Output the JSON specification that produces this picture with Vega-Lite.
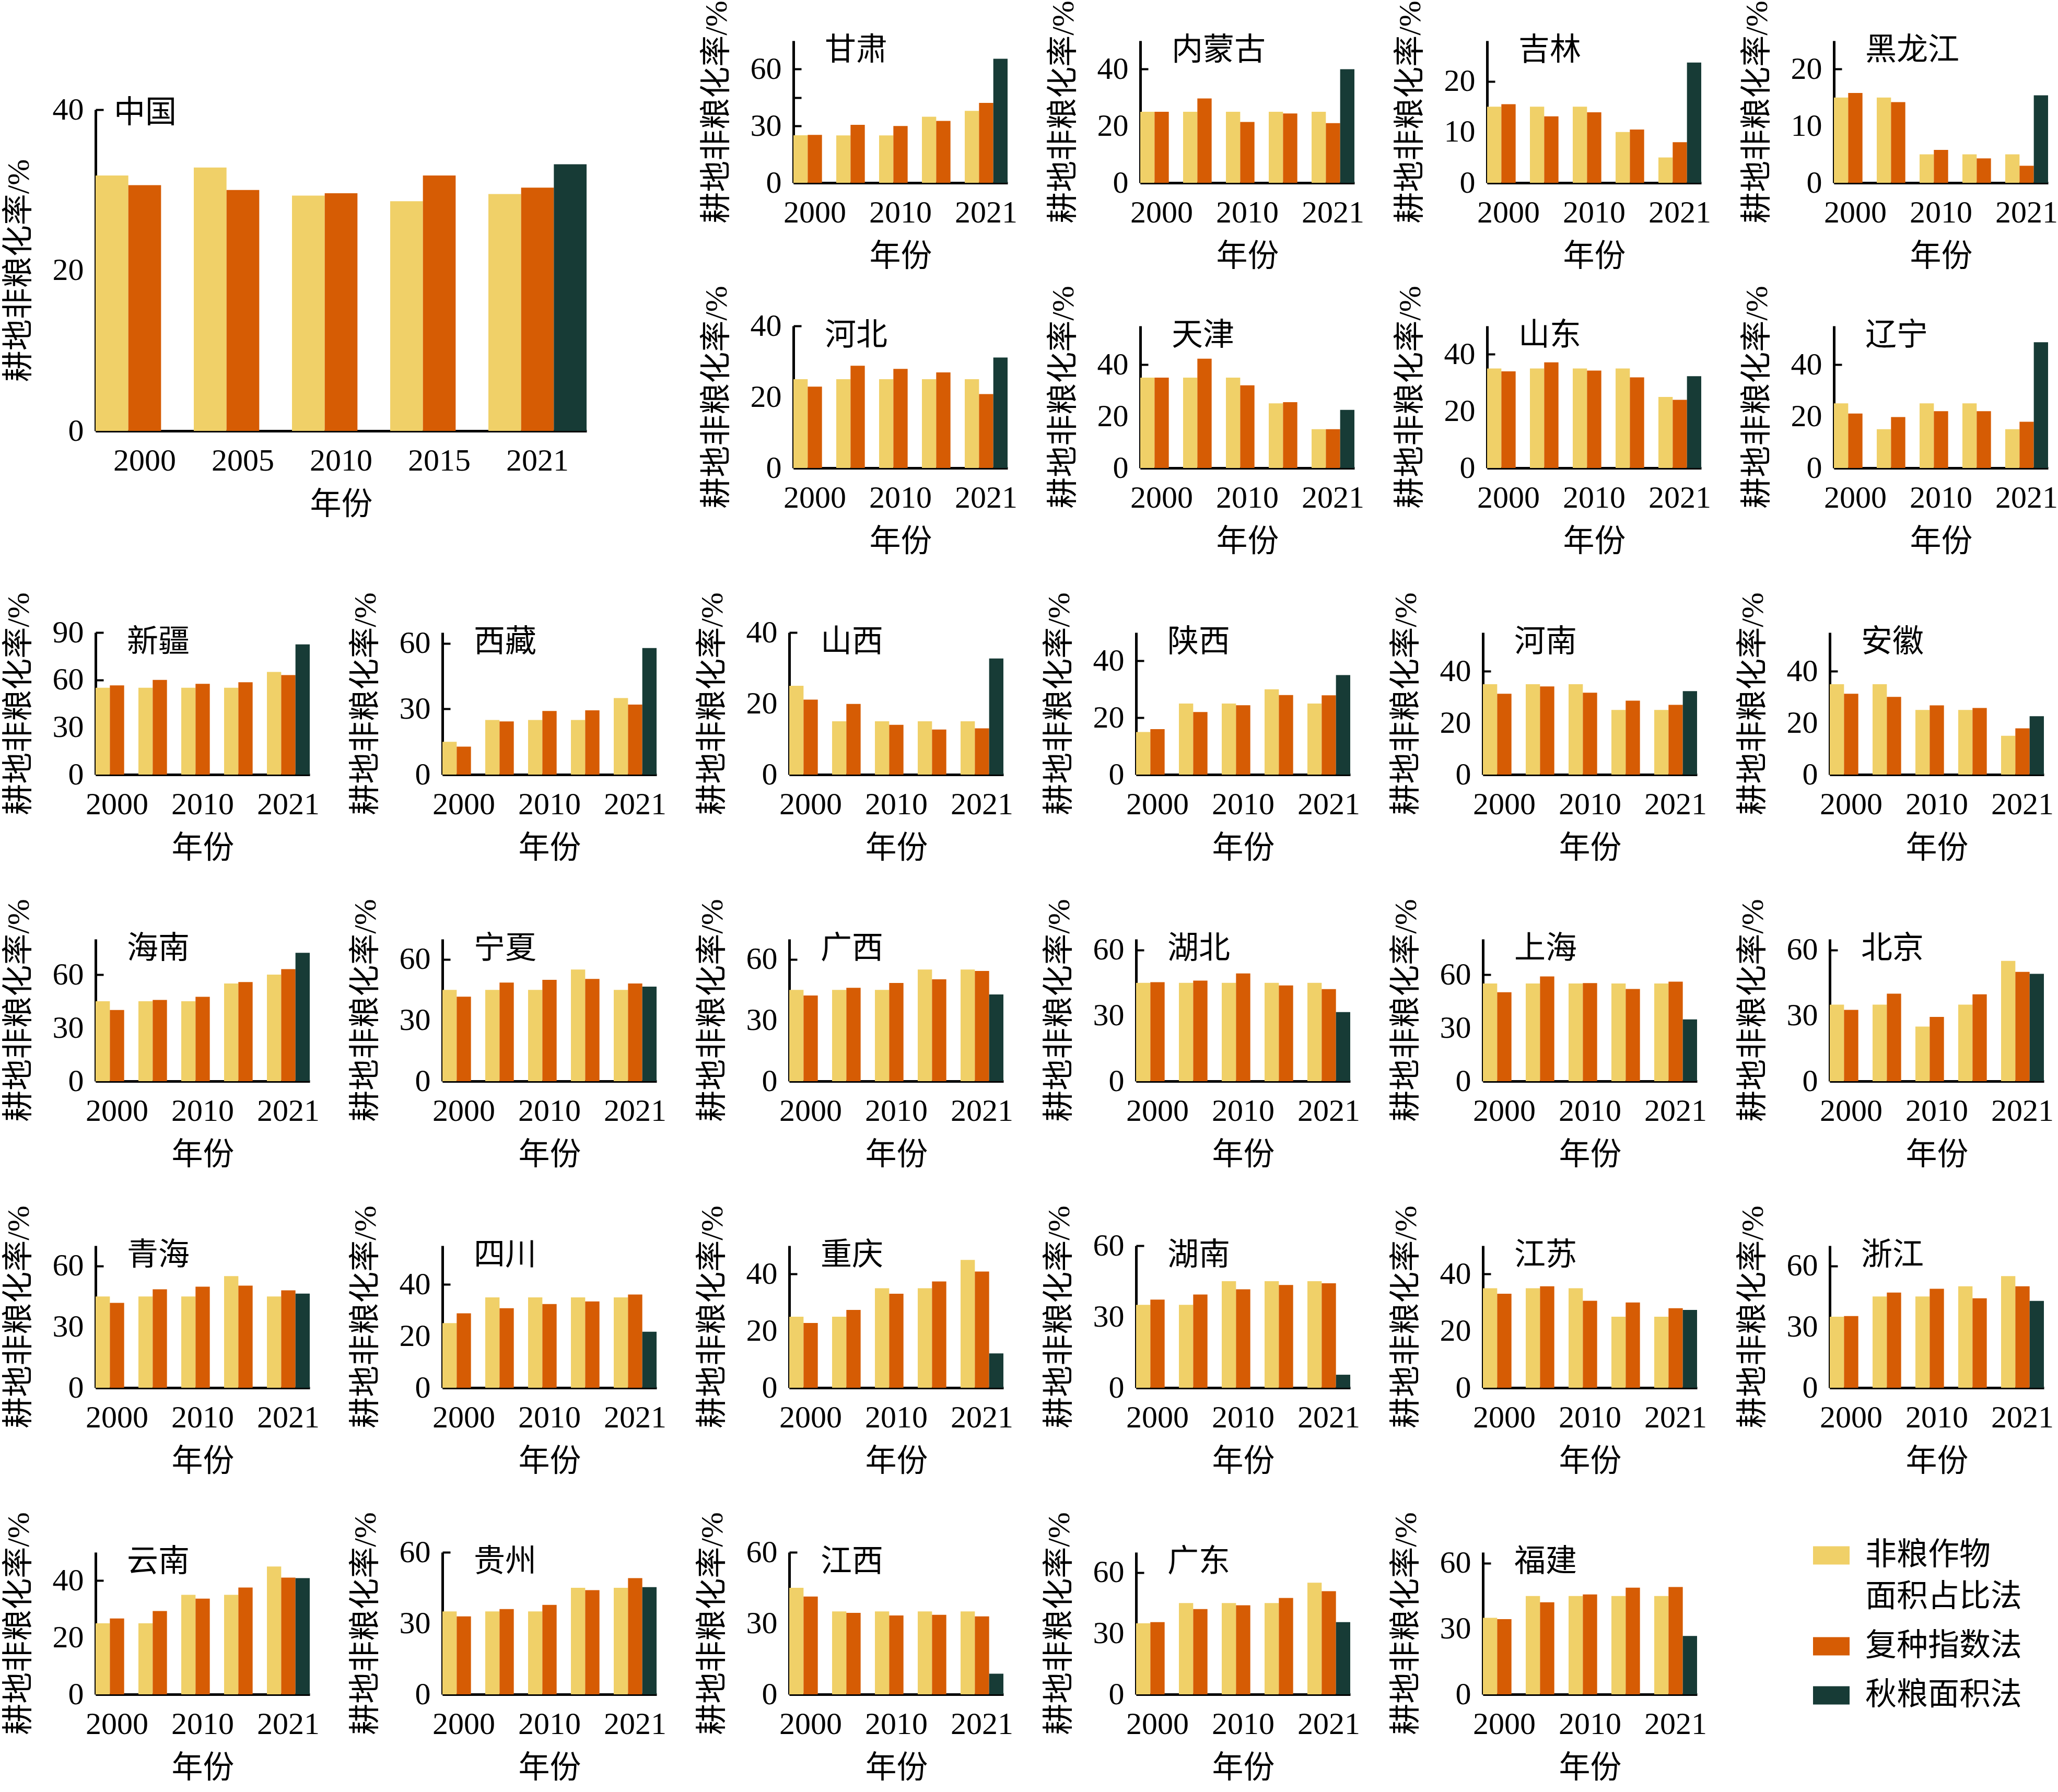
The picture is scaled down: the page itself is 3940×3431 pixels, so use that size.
{
  "$schema": "https://vega.github.io/schema/vega-lite/v6.json",
  "description": "耕地非粮化率：全国与各省份三种测算方法对比（2000-2021）",
  "padding": {"left": 5, "top": 0, "right": 0, "bottom": 0},
  "data": {
    "values": [
      {"region": "中国", "year": "2000", "非粮作物面积占比法": 31.8, "复种指数法": 30.6},
      {"region": "中国", "year": "2005", "非粮作物面积占比法": 32.8, "复种指数法": 30.0},
      {"region": "中国", "year": "2010", "非粮作物面积占比法": 29.3, "复种指数法": 29.6},
      {"region": "中国", "year": "2015", "非粮作物面积占比法": 28.6, "复种指数法": 31.8},
      {"region": "中国", "year": "2021", "非粮作物面积占比法": 29.5, "复种指数法": 30.3, "秋粮面积法": 33.2},
      {"region": "甘肃", "year": "2000", "非粮作物面积占比法": 25.1, "复种指数法": 25.3},
      {"region": "甘肃", "year": "2005", "非粮作物面积占比法": 25, "复种指数法": 30.6},
      {"region": "甘肃", "year": "2010", "非粮作物面积占比法": 25, "复种指数法": 30},
      {"region": "甘肃", "year": "2015", "非粮作物面积占比法": 34.9, "复种指数法": 32.7},
      {"region": "甘肃", "year": "2021", "非粮作物面积占比法": 38, "复种指数法": 42.2, "秋粮面积法": 65.5},
      {"region": "内蒙古", "year": "2000", "非粮作物面积占比法": 25, "复种指数法": 25},
      {"region": "内蒙古", "year": "2005", "非粮作物面积占比法": 25, "复种指数法": 29.7},
      {"region": "内蒙古", "year": "2010", "非粮作物面积占比法": 25, "复种指数法": 21.4},
      {"region": "内蒙古", "year": "2015", "非粮作物面积占比法": 25, "复种指数法": 24.4},
      {"region": "内蒙古", "year": "2021", "非粮作物面积占比法": 25, "复种指数法": 21, "秋粮面积法": 40},
      {"region": "吉林", "year": "2000", "非粮作物面积占比法": 15, "复种指数法": 15.5},
      {"region": "吉林", "year": "2005", "非粮作物面积占比法": 15, "复种指数法": 13.1},
      {"region": "吉林", "year": "2010", "非粮作物面积占比法": 15, "复种指数法": 13.9},
      {"region": "吉林", "year": "2015", "非粮作物面积占比法": 10, "复种指数法": 10.5},
      {"region": "吉林", "year": "2021", "非粮作物面积占比法": 5, "复种指数法": 8, "秋粮面积法": 23.7},
      {"region": "黑龙江", "year": "2000", "非粮作物面积占比法": 15, "复种指数法": 15.8},
      {"region": "黑龙江", "year": "2005", "非粮作物面积占比法": 15, "复种指数法": 14.2},
      {"region": "黑龙江", "year": "2010", "非粮作物面积占比法": 5, "复种指数法": 5.8},
      {"region": "黑龙江", "year": "2015", "非粮作物面积占比法": 5, "复种指数法": 4.3},
      {"region": "黑龙江", "year": "2021", "非粮作物面积占比法": 5, "复种指数法": 3, "秋粮面积法": 15.4},
      {"region": "河北", "year": "2000", "非粮作物面积占比法": 25, "复种指数法": 22.9},
      {"region": "河北", "year": "2005", "非粮作物面积占比法": 25, "复种指数法": 28.8},
      {"region": "河北", "year": "2010", "非粮作物面积占比法": 25, "复种指数法": 27.9},
      {"region": "河北", "year": "2015", "非粮作物面积占比法": 25, "复种指数法": 26.9},
      {"region": "河北", "year": "2021", "非粮作物面积占比法": 25, "复种指数法": 20.8, "秋粮面积法": 31.1},
      {"region": "天津", "year": "2000", "非粮作物面积占比法": 35, "复种指数法": 35},
      {"region": "天津", "year": "2005", "非粮作物面积占比法": 35, "复种指数法": 42.3},
      {"region": "天津", "year": "2010", "非粮作物面积占比法": 35, "复种指数法": 32},
      {"region": "天津", "year": "2015", "非粮作物面积占比法": 25, "复种指数法": 25.5},
      {"region": "天津", "year": "2021", "非粮作物面积占比法": 15, "复种指数法": 15, "秋粮面积法": 22.5},
      {"region": "山东", "year": "2000", "非粮作物面积占比法": 35, "复种指数法": 34},
      {"region": "山东", "year": "2005", "非粮作物面积占比法": 35, "复种指数法": 37.2},
      {"region": "山东", "year": "2010", "非粮作物面积占比法": 35, "复种指数法": 34.3},
      {"region": "山东", "year": "2015", "非粮作物面积占比法": 35, "复种指数法": 31.9},
      {"region": "山东", "year": "2021", "非粮作物面积占比法": 25, "复种指数法": 24, "秋粮面积法": 32.3},
      {"region": "辽宁", "year": "2000", "非粮作物面积占比法": 25, "复种指数法": 21.1},
      {"region": "辽宁", "year": "2005", "非粮作物面积占比法": 15, "复种指数法": 19.7},
      {"region": "辽宁", "year": "2010", "非粮作物面积占比法": 25, "复种指数法": 22},
      {"region": "辽宁", "year": "2015", "非粮作物面积占比法": 25, "复种指数法": 22},
      {"region": "辽宁", "year": "2021", "非粮作物面积占比法": 15, "复种指数法": 17.9, "秋粮面积法": 48.7},
      {"region": "新疆", "year": "2000", "非粮作物面积占比法": 55, "复种指数法": 56.5},
      {"region": "新疆", "year": "2005", "非粮作物面积占比法": 55, "复种指数法": 60},
      {"region": "新疆", "year": "2010", "非粮作物面积占比法": 55, "复种指数法": 57.5},
      {"region": "新疆", "year": "2015", "非粮作物面积占比法": 55, "复种指数法": 58.5},
      {"region": "新疆", "year": "2021", "非粮作物面积占比法": 65, "复种指数法": 63, "秋粮面积法": 82.5},
      {"region": "西藏", "year": "2000", "非粮作物面积占比法": 15, "复种指数法": 12.8},
      {"region": "西藏", "year": "2005", "非粮作物面积占比法": 25, "复种指数法": 24.3},
      {"region": "西藏", "year": "2010", "非粮作物面积占比法": 25, "复种指数法": 29.1},
      {"region": "西藏", "year": "2015", "非粮作物面积占比法": 25, "复种指数法": 29.4},
      {"region": "西藏", "year": "2021", "非粮作物面积占比法": 35, "复种指数法": 32, "秋粮面积法": 57.9},
      {"region": "山西", "year": "2000", "非粮作物面积占比法": 25, "复种指数法": 21.1},
      {"region": "山西", "year": "2005", "非粮作物面积占比法": 15, "复种指数法": 19.9},
      {"region": "山西", "year": "2010", "非粮作物面积占比法": 15, "复种指数法": 14},
      {"region": "山西", "year": "2015", "非粮作物面积占比法": 15, "复种指数法": 12.7},
      {"region": "山西", "year": "2021", "非粮作物面积占比法": 15, "复种指数法": 13, "秋粮面积法": 32.7},
      {"region": "陕西", "year": "2000", "非粮作物面积占比法": 15, "复种指数法": 16},
      {"region": "陕西", "year": "2005", "非粮作物面积占比法": 25, "复种指数法": 22},
      {"region": "陕西", "year": "2010", "非粮作物面积占比法": 25, "复种指数法": 24.4},
      {"region": "陕西", "year": "2015", "非粮作物面积占比法": 30, "复种指数法": 28},
      {"region": "陕西", "year": "2021", "非粮作物面积占比法": 25, "复种指数法": 27.9, "秋粮面积法": 35},
      {"region": "河南", "year": "2000", "非粮作物面积占比法": 35, "复种指数法": 31.3},
      {"region": "河南", "year": "2005", "非粮作物面积占比法": 35, "复种指数法": 34.1},
      {"region": "河南", "year": "2010", "非粮作物面积占比法": 35, "复种指数法": 31.7},
      {"region": "河南", "year": "2015", "非粮作物面积占比法": 25, "复种指数法": 28.6},
      {"region": "河南", "year": "2021", "非粮作物面积占比法": 25, "复种指数法": 27, "秋粮面积法": 32.3},
      {"region": "安徽", "year": "2000", "非粮作物面积占比法": 35, "复种指数法": 31.3},
      {"region": "安徽", "year": "2005", "非粮作物面积占比法": 35, "复种指数法": 30.1},
      {"region": "安徽", "year": "2010", "非粮作物面积占比法": 25, "复种指数法": 26.8},
      {"region": "安徽", "year": "2015", "非粮作物面积占比法": 25, "复种指数法": 25.8},
      {"region": "安徽", "year": "2021", "非粮作物面积占比法": 15, "复种指数法": 17.9, "秋粮面积法": 22.6},
      {"region": "海南", "year": "2000", "非粮作物面积占比法": 45, "复种指数法": 40.1},
      {"region": "海南", "year": "2005", "非粮作物面积占比法": 45, "复种指数法": 45.7},
      {"region": "海南", "year": "2010", "非粮作物面积占比法": 45, "复种指数法": 47.5},
      {"region": "海南", "year": "2015", "非粮作物面积占比法": 55, "复种指数法": 55.8},
      {"region": "海南", "year": "2021", "非粮作物面积占比法": 60, "复种指数法": 63.1, "秋粮面积法": 72.3},
      {"region": "宁夏", "year": "2000", "非粮作物面积占比法": 45, "复种指数法": 41.6},
      {"region": "宁夏", "year": "2005", "非粮作物面积占比法": 45, "复种指数法": 48.6},
      {"region": "宁夏", "year": "2010", "非粮作物面积占比法": 45, "复种指数法": 49.9},
      {"region": "宁夏", "year": "2015", "非粮作物面积占比法": 55, "复种指数法": 50.4},
      {"region": "宁夏", "year": "2021", "非粮作物面积占比法": 45, "复种指数法": 48.1, "秋粮面积法": 46.6},
      {"region": "广西", "year": "2000", "非粮作物面积占比法": 45, "复种指数法": 42.2},
      {"region": "广西", "year": "2005", "非粮作物面积占比法": 45, "复种指数法": 46},
      {"region": "广西", "year": "2010", "非粮作物面积占比法": 45, "复种指数法": 48.4},
      {"region": "广西", "year": "2015", "非粮作物面积占比法": 55, "复种指数法": 50.2},
      {"region": "广西", "year": "2021", "非粮作物面积占比法": 55, "复种指数法": 54.3, "秋粮面积法": 42.7},
      {"region": "湖北", "year": "2000", "非粮作物面积占比法": 45, "复种指数法": 45.3},
      {"region": "湖北", "year": "2005", "非粮作物面积占比法": 45, "复种指数法": 46},
      {"region": "湖北", "year": "2010", "非粮作物面积占比法": 45, "复种指数法": 49.3},
      {"region": "湖北", "year": "2015", "非粮作物面积占比法": 45, "复种指数法": 43.8},
      {"region": "湖北", "year": "2021", "非粮作物面积占比法": 45, "复种指数法": 42.1, "秋粮面积法": 31.6},
      {"region": "上海", "year": "2000", "非粮作物面积占比法": 55, "复种指数法": 50.1},
      {"region": "上海", "year": "2005", "非粮作物面积占比法": 55, "复种指数法": 59},
      {"region": "上海", "year": "2010", "非粮作物面积占比法": 55, "复种指数法": 55.2},
      {"region": "上海", "year": "2015", "非粮作物面积占比法": 55, "复种指数法": 51.9},
      {"region": "上海", "year": "2021", "非粮作物面积占比法": 55, "复种指数法": 56, "秋粮面积法": 34.8},
      {"region": "北京", "year": "2000", "非粮作物面积占比法": 35, "复种指数法": 32.6},
      {"region": "北京", "year": "2005", "非粮作物面积占比法": 35, "复种指数法": 40},
      {"region": "北京", "year": "2010", "非粮作物面积占比法": 25, "复种指数法": 29.4},
      {"region": "北京", "year": "2015", "非粮作物面积占比法": 35, "复种指数法": 39.7},
      {"region": "北京", "year": "2021", "非粮作物面积占比法": 55, "复种指数法": 50, "秋粮面积法": 49.1},
      {"region": "青海", "year": "2000", "非粮作物面积占比法": 45, "复种指数法": 41.8},
      {"region": "青海", "year": "2005", "非粮作物面积占比法": 45, "复种指数法": 48.5},
      {"region": "青海", "year": "2010", "非粮作物面积占比法": 45, "复种指数法": 49.8},
      {"region": "青海", "year": "2015", "非粮作物面积占比法": 55, "复种指数法": 50.3},
      {"region": "青海", "year": "2021", "非粮作物面积占比法": 45, "复种指数法": 48, "秋粮面积法": 46.4},
      {"region": "四川", "year": "2000", "非粮作物面积占比法": 25, "复种指数法": 28.8},
      {"region": "四川", "year": "2005", "非粮作物面积占比法": 35, "复种指数法": 30.8},
      {"region": "四川", "year": "2010", "非粮作物面积占比法": 35, "复种指数法": 32.4},
      {"region": "四川", "year": "2015", "非粮作物面积占比法": 35, "复种指数法": 33.4},
      {"region": "四川", "year": "2021", "非粮作物面积占比法": 35, "复种指数法": 36.1, "秋粮面积法": 21.7},
      {"region": "重庆", "year": "2000", "非粮作物面积占比法": 25, "复种指数法": 22.8},
      {"region": "重庆", "year": "2005", "非粮作物面积占比法": 25, "复种指数法": 27.4},
      {"region": "重庆", "year": "2010", "非粮作物面积占比法": 35, "复种指数法": 33.1},
      {"region": "重庆", "year": "2015", "非粮作物面积占比法": 35, "复种指数法": 37.4},
      {"region": "重庆", "year": "2021", "非粮作物面积占比法": 45, "复种指数法": 40.9, "秋粮面积法": 12.1},
      {"region": "湖南", "year": "2000", "非粮作物面积占比法": 35, "复种指数法": 37.2},
      {"region": "湖南", "year": "2005", "非粮作物面积占比法": 35, "复种指数法": 39.4},
      {"region": "湖南", "year": "2010", "非粮作物面积占比法": 45, "复种指数法": 41.6},
      {"region": "湖南", "year": "2015", "非粮作物面积占比法": 45, "复种指数法": 43.4},
      {"region": "湖南", "year": "2021", "非粮作物面积占比法": 45, "复种指数法": 44.1, "秋粮面积法": 5.5},
      {"region": "江苏", "year": "2000", "非粮作物面积占比法": 35, "复种指数法": 33.1},
      {"region": "江苏", "year": "2005", "非粮作物面积占比法": 35, "复种指数法": 35.7},
      {"region": "江苏", "year": "2010", "非粮作物面积占比法": 35, "复种指数法": 30.6},
      {"region": "江苏", "year": "2015", "非粮作物面积占比法": 25, "复种指数法": 30},
      {"region": "江苏", "year": "2021", "非粮作物面积占比法": 25, "复种指数法": 28, "秋粮面积法": 27.4},
      {"region": "浙江", "year": "2000", "非粮作物面积占比法": 35, "复种指数法": 35.3},
      {"region": "浙江", "year": "2005", "非粮作物面积占比法": 45, "复种指数法": 46.9},
      {"region": "浙江", "year": "2010", "非粮作物面积占比法": 45, "复种指数法": 48.8},
      {"region": "浙江", "year": "2015", "非粮作物面积占比法": 50, "复种指数法": 44.1},
      {"region": "浙江", "year": "2021", "非粮作物面积占比法": 55, "复种指数法": 50, "秋粮面积法": 42.8},
      {"region": "云南", "year": "2000", "非粮作物面积占比法": 25, "复种指数法": 26.7},
      {"region": "云南", "year": "2005", "非粮作物面积占比法": 25, "复种指数法": 29.3},
      {"region": "云南", "year": "2010", "非粮作物面积占比法": 35, "复种指数法": 33.7},
      {"region": "云南", "year": "2015", "非粮作物面积占比法": 35, "复种指数法": 37.6},
      {"region": "云南", "year": "2021", "非粮作物面积占比法": 45, "复种指数法": 41.1, "秋粮面积法": 40.9},
      {"region": "贵州", "year": "2000", "非粮作物面积占比法": 35, "复种指数法": 32.9},
      {"region": "贵州", "year": "2005", "非粮作物面积占比法": 35, "复种指数法": 36},
      {"region": "贵州", "year": "2010", "非粮作物面积占比法": 35, "复种指数法": 37.8},
      {"region": "贵州", "year": "2015", "非粮作物面积占比法": 45, "复种指数法": 44},
      {"region": "贵州", "year": "2021", "非粮作物面积占比法": 45, "复种指数法": 49.1, "秋粮面积法": 45.3},
      {"region": "江西", "year": "2000", "非粮作物面积占比法": 45, "复种指数法": 41.3},
      {"region": "江西", "year": "2005", "非粮作物面积占比法": 35, "复种指数法": 34.4},
      {"region": "江西", "year": "2010", "非粮作物面积占比法": 35, "复种指数法": 33.3},
      {"region": "江西", "year": "2015", "非粮作物面积占比法": 35, "复种指数法": 33.6},
      {"region": "江西", "year": "2021", "非粮作物面积占比法": 35, "复种指数法": 32.9, "秋粮面积法": 8.7},
      {"region": "广东", "year": "2000", "非粮作物面积占比法": 35, "复种指数法": 35.6},
      {"region": "广东", "year": "2005", "非粮作物面积占比法": 45, "复种指数法": 42},
      {"region": "广东", "year": "2010", "非粮作物面积占比法": 45, "复种指数法": 43.9},
      {"region": "广东", "year": "2015", "非粮作物面积占比法": 45, "复种指数法": 47.5},
      {"region": "广东", "year": "2021", "非粮作物面积占比法": 55, "复种指数法": 50.8, "秋粮面积法": 35.6},
      {"region": "福建", "year": "2000", "非粮作物面积占比法": 35, "复种指数法": 34.4},
      {"region": "福建", "year": "2005", "非粮作物面积占比法": 45, "复种指数法": 42.1},
      {"region": "福建", "year": "2010", "非粮作物面积占比法": 45, "复种指数法": 45.7},
      {"region": "福建", "year": "2015", "非粮作物面积占比法": 45, "复种指数法": 48.8},
      {"region": "福建", "year": "2021", "非粮作物面积占比法": 45, "复种指数法": 49.1, "秋粮面积法": 26.7}
    ]
  },
  "transform": [
    {"fold": ["非粮作物面积占比法", "复种指数法", "秋粮面积法"], "as": ["method", "rate"]}
  ],
  "resolve": {"scale": {"xOffset": "independent"}},
  "spacing": 66,
  "vconcat": [
    {
      "spacing": 218,
      "resolve": {"scale": {"xOffset": "independent"}},
      "hconcat": [
        {
          "spacing": 101,
          "resolve": {"scale": {"xOffset": "independent"}},
          "vconcat": [
            {"width": 1, "height": 1, "data": {"values": []}, "mark": "point"},
            {
              "width": 940, "height": 615,
              "title": {"text": "中国", "dx": 35, "dy": 72},
              "transform": [{"filter": "datum.region == '中国'"}],
              "mark": "bar",
              "encoding": {
                "x": {"field": "year", "type": "ordinal", "title": "年份", "scale": {"paddingInner": 0, "paddingOuter": 0}},
                "xOffset": {"field": "method", "scale": {"domain": ["非粮作物面积占比法", "复种指数法", "秋粮面积法"], "paddingInner": 0, "paddingOuter": 0}},
                "y": {"field": "rate", "type": "quantitative", "title": "耕地非粮化率/%", "scale": {"domain": [0, 40], "nice": false}, "axis": {"values": [0, 20, 40]}},
                "color": {
                  "field": "method", "title": null,
                  "scale": {"domain": ["非粮作物面积占比法", "复种指数法", "秋粮面积法"], "range": ["#F0D068", "#D65C04", "#173B36"]},
                  "legend": {
                    "orient": "none", "legendX": 3288, "legendY": 2865, "direction": "vertical", "padding": 0,
                    "symbolType": "M-1,-0.5H1V0.5H-1Z", "symbolSize": 4900, "symbolStrokeWidth": 0,
                    "labelFont": "Liberation Serif, Noto Sans CJK SC", "labelFontSize": 60, "labelColor": "#000",
                    "labelOffset": 30, "labelLimit": 0, "rowPadding": 29,
                    "labelExpr": "datum.label == '非粮作物面积占比法' ? ['非粮作物', '面积占比法'] : datum.label"
                  }
                }
              }
            }
          ]
        },
        {
          "spacing": 25,
          "resolve": {"scale": {"xOffset": "independent"}},
          "vconcat": [
            {
              "spacing": 57,
              "hconcat": [
                {"width": 410, "height": 272, "title": "甘肃", "transform": [{"filter": "datum.region == '甘肃'"}], "mark": "bar",
                 "encoding": {"x": {"field": "year", "type": "ordinal", "title": "年份", "scale": {"paddingInner": 0, "paddingOuter": 0}, "axis": {"labelExpr": "datum.label == '2005' || datum.label == '2015' ? '' : datum.label"}},
                  "xOffset": {"field": "method", "scale": {"domain": ["非粮作物面积占比法", "复种指数法", "秋粮面积法"], "paddingInner": 0, "paddingOuter": 0}},
                  "y": {"field": "rate", "type": "quantitative", "title": "耕地非粮化率/%", "scale": {"domain": [0, 75], "nice": false}, "axis": {"values": [0, 15, 30, 45, 60], "labelExpr": "datum.value % 30 == 0 ? datum.label : ''"}},
                  "color": {"field": "method", "title": null, "scale": {"domain": ["非粮作物面积占比法", "复种指数法", "秋粮面积法"], "range": ["#F0D068", "#D65C04", "#173B36"]}}}},
                {"width": 410, "height": 272, "title": "内蒙古", "transform": [{"filter": "datum.region == '内蒙古'"}], "mark": "bar",
                 "encoding": {"x": {"field": "year", "type": "ordinal", "title": "年份", "scale": {"paddingInner": 0, "paddingOuter": 0}, "axis": {"labelExpr": "datum.label == '2005' || datum.label == '2015' ? '' : datum.label"}},
                  "xOffset": {"field": "method", "scale": {"domain": ["非粮作物面积占比法", "复种指数法", "秋粮面积法"], "paddingInner": 0, "paddingOuter": 0}},
                  "y": {"field": "rate", "type": "quantitative", "title": "耕地非粮化率/%", "scale": {"domain": [0, 50], "nice": false}, "axis": {"values": [0, 20, 40]}},
                  "color": {"field": "method", "title": null, "scale": {"domain": ["非粮作物面积占比法", "复种指数法", "秋粮面积法"], "range": ["#F0D068", "#D65C04", "#173B36"]}}}},
                {"width": 410, "height": 272, "title": "吉林", "transform": [{"filter": "datum.region == '吉林'"}], "mark": "bar",
                 "encoding": {"x": {"field": "year", "type": "ordinal", "title": "年份", "scale": {"paddingInner": 0, "paddingOuter": 0}, "axis": {"labelExpr": "datum.label == '2005' || datum.label == '2015' ? '' : datum.label"}},
                  "xOffset": {"field": "method", "scale": {"domain": ["非粮作物面积占比法", "复种指数法", "秋粮面积法"], "paddingInner": 0, "paddingOuter": 0}},
                  "y": {"field": "rate", "type": "quantitative", "title": "耕地非粮化率/%", "scale": {"domain": [0, 28], "nice": false}, "axis": {"values": [0, 10, 20]}},
                  "color": {"field": "method", "title": null, "scale": {"domain": ["非粮作物面积占比法", "复种指数法", "秋粮面积法"], "range": ["#F0D068", "#D65C04", "#173B36"]}}}},
                {"width": 410, "height": 272, "title": "黑龙江", "transform": [{"filter": "datum.region == '黑龙江'"}], "mark": "bar",
                 "encoding": {"x": {"field": "year", "type": "ordinal", "title": "年份", "scale": {"paddingInner": 0, "paddingOuter": 0}, "axis": {"labelExpr": "datum.label == '2005' || datum.label == '2015' ? '' : datum.label"}},
                  "xOffset": {"field": "method", "scale": {"domain": ["非粮作物面积占比法", "复种指数法", "秋粮面积法"], "paddingInner": 0, "paddingOuter": 0}},
                  "y": {"field": "rate", "type": "quantitative", "title": "耕地非粮化率/%", "scale": {"domain": [0, 25], "nice": false}, "axis": {"values": [0, 10, 20]}},
                  "color": {"field": "method", "title": null, "scale": {"domain": ["非粮作物面积占比法", "复种指数法", "秋粮面积法"], "range": ["#F0D068", "#D65C04", "#173B36"]}}}}
              ]
            },
            {
              "spacing": 57,
              "hconcat": [
                {"width": 410, "height": 272, "title": "河北", "transform": [{"filter": "datum.region == '河北'"}], "mark": "bar",
                 "encoding": {"x": {"field": "year", "type": "ordinal", "title": "年份", "scale": {"paddingInner": 0, "paddingOuter": 0}, "axis": {"labelExpr": "datum.label == '2005' || datum.label == '2015' ? '' : datum.label"}},
                  "xOffset": {"field": "method", "scale": {"domain": ["非粮作物面积占比法", "复种指数法", "秋粮面积法"], "paddingInner": 0, "paddingOuter": 0}},
                  "y": {"field": "rate", "type": "quantitative", "title": "耕地非粮化率/%", "scale": {"domain": [0, 40], "nice": false}, "axis": {"values": [0, 20, 40]}},
                  "color": {"field": "method", "title": null, "scale": {"domain": ["非粮作物面积占比法", "复种指数法", "秋粮面积法"], "range": ["#F0D068", "#D65C04", "#173B36"]}}}},
                {"width": 410, "height": 272, "title": "天津", "transform": [{"filter": "datum.region == '天津'"}], "mark": "bar",
                 "encoding": {"x": {"field": "year", "type": "ordinal", "title": "年份", "scale": {"paddingInner": 0, "paddingOuter": 0}, "axis": {"labelExpr": "datum.label == '2005' || datum.label == '2015' ? '' : datum.label"}},
                  "xOffset": {"field": "method", "scale": {"domain": ["非粮作物面积占比法", "复种指数法", "秋粮面积法"], "paddingInner": 0, "paddingOuter": 0}},
                  "y": {"field": "rate", "type": "quantitative", "title": "耕地非粮化率/%", "scale": {"domain": [0, 55], "nice": false}, "axis": {"values": [0, 20, 40]}},
                  "color": {"field": "method", "title": null, "scale": {"domain": ["非粮作物面积占比法", "复种指数法", "秋粮面积法"], "range": ["#F0D068", "#D65C04", "#173B36"]}}}},
                {"width": 410, "height": 272, "title": "山东", "transform": [{"filter": "datum.region == '山东'"}], "mark": "bar",
                 "encoding": {"x": {"field": "year", "type": "ordinal", "title": "年份", "scale": {"paddingInner": 0, "paddingOuter": 0}, "axis": {"labelExpr": "datum.label == '2005' || datum.label == '2015' ? '' : datum.label"}},
                  "xOffset": {"field": "method", "scale": {"domain": ["非粮作物面积占比法", "复种指数法", "秋粮面积法"], "paddingInner": 0, "paddingOuter": 0}},
                  "y": {"field": "rate", "type": "quantitative", "title": "耕地非粮化率/%", "scale": {"domain": [0, 50], "nice": false}, "axis": {"values": [0, 20, 40]}},
                  "color": {"field": "method", "title": null, "scale": {"domain": ["非粮作物面积占比法", "复种指数法", "秋粮面积法"], "range": ["#F0D068", "#D65C04", "#173B36"]}}}},
                {"width": 410, "height": 272, "title": "辽宁", "transform": [{"filter": "datum.region == '辽宁'"}], "mark": "bar",
                 "encoding": {"x": {"field": "year", "type": "ordinal", "title": "年份", "scale": {"paddingInner": 0, "paddingOuter": 0}, "axis": {"labelExpr": "datum.label == '2005' || datum.label == '2015' ? '' : datum.label"}},
                  "xOffset": {"field": "method", "scale": {"domain": ["非粮作物面积占比法", "复种指数法", "秋粮面积法"], "paddingInner": 0, "paddingOuter": 0}},
                  "y": {"field": "rate", "type": "quantitative", "title": "耕地非粮化率/%", "scale": {"domain": [0, 55], "nice": false}, "axis": {"values": [0, 20, 40]}},
                  "color": {"field": "method", "title": null, "scale": {"domain": ["非粮作物面积占比法", "复种指数法", "秋粮面积法"], "range": ["#F0D068", "#D65C04", "#173B36"]}}}}
              ]
            }
          ]
        }
      ]
    },
    {
      "spacing": 57,
      "hconcat": [
        {"width": 410, "height": 272, "title": "新疆", "transform": [{"filter": "datum.region == '新疆'"}], "mark": "bar",
         "encoding": {"x": {"field": "year", "type": "ordinal", "title": "年份", "scale": {"paddingInner": 0, "paddingOuter": 0}, "axis": {"labelExpr": "datum.label == '2005' || datum.label == '2015' ? '' : datum.label"}},
          "xOffset": {"field": "method", "scale": {"domain": ["非粮作物面积占比法", "复种指数法", "秋粮面积法"], "paddingInner": 0, "paddingOuter": 0}},
          "y": {"field": "rate", "type": "quantitative", "title": "耕地非粮化率/%", "scale": {"domain": [0, 90], "nice": false}, "axis": {"values": [0, 30, 60, 90]}},
          "color": {"field": "method", "title": null, "scale": {"domain": ["非粮作物面积占比法", "复种指数法", "秋粮面积法"], "range": ["#F0D068", "#D65C04", "#173B36"]}}}},
        {"width": 410, "height": 272, "title": "西藏", "transform": [{"filter": "datum.region == '西藏'"}], "mark": "bar",
         "encoding": {"x": {"field": "year", "type": "ordinal", "title": "年份", "scale": {"paddingInner": 0, "paddingOuter": 0}, "axis": {"labelExpr": "datum.label == '2005' || datum.label == '2015' ? '' : datum.label"}},
          "xOffset": {"field": "method", "scale": {"domain": ["非粮作物面积占比法", "复种指数法", "秋粮面积法"], "paddingInner": 0, "paddingOuter": 0}},
          "y": {"field": "rate", "type": "quantitative", "title": "耕地非粮化率/%", "scale": {"domain": [0, 65], "nice": false}, "axis": {"values": [0, 30, 60]}},
          "color": {"field": "method", "title": null, "scale": {"domain": ["非粮作物面积占比法", "复种指数法", "秋粮面积法"], "range": ["#F0D068", "#D65C04", "#173B36"]}}}},
        {"width": 410, "height": 272, "title": "山西", "transform": [{"filter": "datum.region == '山西'"}], "mark": "bar",
         "encoding": {"x": {"field": "year", "type": "ordinal", "title": "年份", "scale": {"paddingInner": 0, "paddingOuter": 0}, "axis": {"labelExpr": "datum.label == '2005' || datum.label == '2015' ? '' : datum.label"}},
          "xOffset": {"field": "method", "scale": {"domain": ["非粮作物面积占比法", "复种指数法", "秋粮面积法"], "paddingInner": 0, "paddingOuter": 0}},
          "y": {"field": "rate", "type": "quantitative", "title": "耕地非粮化率/%", "scale": {"domain": [0, 40], "nice": false}, "axis": {"values": [0, 20, 40]}},
          "color": {"field": "method", "title": null, "scale": {"domain": ["非粮作物面积占比法", "复种指数法", "秋粮面积法"], "range": ["#F0D068", "#D65C04", "#173B36"]}}}},
        {"width": 410, "height": 272, "title": "陕西", "transform": [{"filter": "datum.region == '陕西'"}], "mark": "bar",
         "encoding": {"x": {"field": "year", "type": "ordinal", "title": "年份", "scale": {"paddingInner": 0, "paddingOuter": 0}, "axis": {"labelExpr": "datum.label == '2005' || datum.label == '2015' ? '' : datum.label"}},
          "xOffset": {"field": "method", "scale": {"domain": ["非粮作物面积占比法", "复种指数法", "秋粮面积法"], "paddingInner": 0, "paddingOuter": 0}},
          "y": {"field": "rate", "type": "quantitative", "title": "耕地非粮化率/%", "scale": {"domain": [0, 50], "nice": false}, "axis": {"values": [0, 20, 40]}},
          "color": {"field": "method", "title": null, "scale": {"domain": ["非粮作物面积占比法", "复种指数法", "秋粮面积法"], "range": ["#F0D068", "#D65C04", "#173B36"]}}}},
        {"width": 410, "height": 272, "title": "河南", "transform": [{"filter": "datum.region == '河南'"}], "mark": "bar",
         "encoding": {"x": {"field": "year", "type": "ordinal", "title": "年份", "scale": {"paddingInner": 0, "paddingOuter": 0}, "axis": {"labelExpr": "datum.label == '2005' || datum.label == '2015' ? '' : datum.label"}},
          "xOffset": {"field": "method", "scale": {"domain": ["非粮作物面积占比法", "复种指数法", "秋粮面积法"], "paddingInner": 0, "paddingOuter": 0}},
          "y": {"field": "rate", "type": "quantitative", "title": "耕地非粮化率/%", "scale": {"domain": [0, 55], "nice": false}, "axis": {"values": [0, 20, 40]}},
          "color": {"field": "method", "title": null, "scale": {"domain": ["非粮作物面积占比法", "复种指数法", "秋粮面积法"], "range": ["#F0D068", "#D65C04", "#173B36"]}}}},
        {"width": 410, "height": 272, "title": "安徽", "transform": [{"filter": "datum.region == '安徽'"}], "mark": "bar",
         "encoding": {"x": {"field": "year", "type": "ordinal", "title": "年份", "scale": {"paddingInner": 0, "paddingOuter": 0}, "axis": {"labelExpr": "datum.label == '2005' || datum.label == '2015' ? '' : datum.label"}},
          "xOffset": {"field": "method", "scale": {"domain": ["非粮作物面积占比法", "复种指数法", "秋粮面积法"], "paddingInner": 0, "paddingOuter": 0}},
          "y": {"field": "rate", "type": "quantitative", "title": "耕地非粮化率/%", "scale": {"domain": [0, 55], "nice": false}, "axis": {"values": [0, 20, 40]}},
          "color": {"field": "method", "title": null, "scale": {"domain": ["非粮作物面积占比法", "复种指数法", "秋粮面积法"], "range": ["#F0D068", "#D65C04", "#173B36"]}}}}
      ]
    },
    {
      "spacing": 57,
      "hconcat": [
        {"width": 410, "height": 272, "title": "海南", "transform": [{"filter": "datum.region == '海南'"}], "mark": "bar",
         "encoding": {"x": {"field": "year", "type": "ordinal", "title": "年份", "scale": {"paddingInner": 0, "paddingOuter": 0}, "axis": {"labelExpr": "datum.label == '2005' || datum.label == '2015' ? '' : datum.label"}},
          "xOffset": {"field": "method", "scale": {"domain": ["非粮作物面积占比法", "复种指数法", "秋粮面积法"], "paddingInner": 0, "paddingOuter": 0}},
          "y": {"field": "rate", "type": "quantitative", "title": "耕地非粮化率/%", "scale": {"domain": [0, 80], "nice": false}, "axis": {"values": [0, 30, 60]}},
          "color": {"field": "method", "title": null, "scale": {"domain": ["非粮作物面积占比法", "复种指数法", "秋粮面积法"], "range": ["#F0D068", "#D65C04", "#173B36"]}}}},
        {"width": 410, "height": 272, "title": "宁夏", "transform": [{"filter": "datum.region == '宁夏'"}], "mark": "bar",
         "encoding": {"x": {"field": "year", "type": "ordinal", "title": "年份", "scale": {"paddingInner": 0, "paddingOuter": 0}, "axis": {"labelExpr": "datum.label == '2005' || datum.label == '2015' ? '' : datum.label"}},
          "xOffset": {"field": "method", "scale": {"domain": ["非粮作物面积占比法", "复种指数法", "秋粮面积法"], "paddingInner": 0, "paddingOuter": 0}},
          "y": {"field": "rate", "type": "quantitative", "title": "耕地非粮化率/%", "scale": {"domain": [0, 70], "nice": false}, "axis": {"values": [0, 30, 60]}},
          "color": {"field": "method", "title": null, "scale": {"domain": ["非粮作物面积占比法", "复种指数法", "秋粮面积法"], "range": ["#F0D068", "#D65C04", "#173B36"]}}}},
        {"width": 410, "height": 272, "title": "广西", "transform": [{"filter": "datum.region == '广西'"}], "mark": "bar",
         "encoding": {"x": {"field": "year", "type": "ordinal", "title": "年份", "scale": {"paddingInner": 0, "paddingOuter": 0}, "axis": {"labelExpr": "datum.label == '2005' || datum.label == '2015' ? '' : datum.label"}},
          "xOffset": {"field": "method", "scale": {"domain": ["非粮作物面积占比法", "复种指数法", "秋粮面积法"], "paddingInner": 0, "paddingOuter": 0}},
          "y": {"field": "rate", "type": "quantitative", "title": "耕地非粮化率/%", "scale": {"domain": [0, 70], "nice": false}, "axis": {"values": [0, 30, 60]}},
          "color": {"field": "method", "title": null, "scale": {"domain": ["非粮作物面积占比法", "复种指数法", "秋粮面积法"], "range": ["#F0D068", "#D65C04", "#173B36"]}}}},
        {"width": 410, "height": 272, "title": "湖北", "transform": [{"filter": "datum.region == '湖北'"}], "mark": "bar",
         "encoding": {"x": {"field": "year", "type": "ordinal", "title": "年份", "scale": {"paddingInner": 0, "paddingOuter": 0}, "axis": {"labelExpr": "datum.label == '2005' || datum.label == '2015' ? '' : datum.label"}},
          "xOffset": {"field": "method", "scale": {"domain": ["非粮作物面积占比法", "复种指数法", "秋粮面积法"], "paddingInner": 0, "paddingOuter": 0}},
          "y": {"field": "rate", "type": "quantitative", "title": "耕地非粮化率/%", "scale": {"domain": [0, 65], "nice": false}, "axis": {"values": [0, 30, 60]}},
          "color": {"field": "method", "title": null, "scale": {"domain": ["非粮作物面积占比法", "复种指数法", "秋粮面积法"], "range": ["#F0D068", "#D65C04", "#173B36"]}}}},
        {"width": 410, "height": 272, "title": "上海", "transform": [{"filter": "datum.region == '上海'"}], "mark": "bar",
         "encoding": {"x": {"field": "year", "type": "ordinal", "title": "年份", "scale": {"paddingInner": 0, "paddingOuter": 0}, "axis": {"labelExpr": "datum.label == '2005' || datum.label == '2015' ? '' : datum.label"}},
          "xOffset": {"field": "method", "scale": {"domain": ["非粮作物面积占比法", "复种指数法", "秋粮面积法"], "paddingInner": 0, "paddingOuter": 0}},
          "y": {"field": "rate", "type": "quantitative", "title": "耕地非粮化率/%", "scale": {"domain": [0, 80], "nice": false}, "axis": {"values": [0, 30, 60]}},
          "color": {"field": "method", "title": null, "scale": {"domain": ["非粮作物面积占比法", "复种指数法", "秋粮面积法"], "range": ["#F0D068", "#D65C04", "#173B36"]}}}},
        {"width": 410, "height": 272, "title": "北京", "transform": [{"filter": "datum.region == '北京'"}], "mark": "bar",
         "encoding": {"x": {"field": "year", "type": "ordinal", "title": "年份", "scale": {"paddingInner": 0, "paddingOuter": 0}, "axis": {"labelExpr": "datum.label == '2005' || datum.label == '2015' ? '' : datum.label"}},
          "xOffset": {"field": "method", "scale": {"domain": ["非粮作物面积占比法", "复种指数法", "秋粮面积法"], "paddingInner": 0, "paddingOuter": 0}},
          "y": {"field": "rate", "type": "quantitative", "title": "耕地非粮化率/%", "scale": {"domain": [0, 65], "nice": false}, "axis": {"values": [0, 30, 60]}},
          "color": {"field": "method", "title": null, "scale": {"domain": ["非粮作物面积占比法", "复种指数法", "秋粮面积法"], "range": ["#F0D068", "#D65C04", "#173B36"]}}}}
      ]
    },
    {
      "spacing": 57,
      "hconcat": [
        {"width": 410, "height": 272, "title": "青海", "transform": [{"filter": "datum.region == '青海'"}], "mark": "bar",
         "encoding": {"x": {"field": "year", "type": "ordinal", "title": "年份", "scale": {"paddingInner": 0, "paddingOuter": 0}, "axis": {"labelExpr": "datum.label == '2005' || datum.label == '2015' ? '' : datum.label"}},
          "xOffset": {"field": "method", "scale": {"domain": ["非粮作物面积占比法", "复种指数法", "秋粮面积法"], "paddingInner": 0, "paddingOuter": 0}},
          "y": {"field": "rate", "type": "quantitative", "title": "耕地非粮化率/%", "scale": {"domain": [0, 70], "nice": false}, "axis": {"values": [0, 30, 60]}},
          "color": {"field": "method", "title": null, "scale": {"domain": ["非粮作物面积占比法", "复种指数法", "秋粮面积法"], "range": ["#F0D068", "#D65C04", "#173B36"]}}}},
        {"width": 410, "height": 272, "title": "四川", "transform": [{"filter": "datum.region == '四川'"}], "mark": "bar",
         "encoding": {"x": {"field": "year", "type": "ordinal", "title": "年份", "scale": {"paddingInner": 0, "paddingOuter": 0}, "axis": {"labelExpr": "datum.label == '2005' || datum.label == '2015' ? '' : datum.label"}},
          "xOffset": {"field": "method", "scale": {"domain": ["非粮作物面积占比法", "复种指数法", "秋粮面积法"], "paddingInner": 0, "paddingOuter": 0}},
          "y": {"field": "rate", "type": "quantitative", "title": "耕地非粮化率/%", "scale": {"domain": [0, 55], "nice": false}, "axis": {"values": [0, 20, 40]}},
          "color": {"field": "method", "title": null, "scale": {"domain": ["非粮作物面积占比法", "复种指数法", "秋粮面积法"], "range": ["#F0D068", "#D65C04", "#173B36"]}}}},
        {"width": 410, "height": 272, "title": "重庆", "transform": [{"filter": "datum.region == '重庆'"}], "mark": "bar",
         "encoding": {"x": {"field": "year", "type": "ordinal", "title": "年份", "scale": {"paddingInner": 0, "paddingOuter": 0}, "axis": {"labelExpr": "datum.label == '2005' || datum.label == '2015' ? '' : datum.label"}},
          "xOffset": {"field": "method", "scale": {"domain": ["非粮作物面积占比法", "复种指数法", "秋粮面积法"], "paddingInner": 0, "paddingOuter": 0}},
          "y": {"field": "rate", "type": "quantitative", "title": "耕地非粮化率/%", "scale": {"domain": [0, 50], "nice": false}, "axis": {"values": [0, 20, 40]}},
          "color": {"field": "method", "title": null, "scale": {"domain": ["非粮作物面积占比法", "复种指数法", "秋粮面积法"], "range": ["#F0D068", "#D65C04", "#173B36"]}}}},
        {"width": 410, "height": 272, "title": "湖南", "transform": [{"filter": "datum.region == '湖南'"}], "mark": "bar",
         "encoding": {"x": {"field": "year", "type": "ordinal", "title": "年份", "scale": {"paddingInner": 0, "paddingOuter": 0}, "axis": {"labelExpr": "datum.label == '2005' || datum.label == '2015' ? '' : datum.label"}},
          "xOffset": {"field": "method", "scale": {"domain": ["非粮作物面积占比法", "复种指数法", "秋粮面积法"], "paddingInner": 0, "paddingOuter": 0}},
          "y": {"field": "rate", "type": "quantitative", "title": "耕地非粮化率/%", "scale": {"domain": [0, 60], "nice": false}, "axis": {"values": [0, 30, 60]}},
          "color": {"field": "method", "title": null, "scale": {"domain": ["非粮作物面积占比法", "复种指数法", "秋粮面积法"], "range": ["#F0D068", "#D65C04", "#173B36"]}}}},
        {"width": 410, "height": 272, "title": "江苏", "transform": [{"filter": "datum.region == '江苏'"}], "mark": "bar",
         "encoding": {"x": {"field": "year", "type": "ordinal", "title": "年份", "scale": {"paddingInner": 0, "paddingOuter": 0}, "axis": {"labelExpr": "datum.label == '2005' || datum.label == '2015' ? '' : datum.label"}},
          "xOffset": {"field": "method", "scale": {"domain": ["非粮作物面积占比法", "复种指数法", "秋粮面积法"], "paddingInner": 0, "paddingOuter": 0}},
          "y": {"field": "rate", "type": "quantitative", "title": "耕地非粮化率/%", "scale": {"domain": [0, 50], "nice": false}, "axis": {"values": [0, 20, 40]}},
          "color": {"field": "method", "title": null, "scale": {"domain": ["非粮作物面积占比法", "复种指数法", "秋粮面积法"], "range": ["#F0D068", "#D65C04", "#173B36"]}}}},
        {"width": 410, "height": 272, "title": "浙江", "transform": [{"filter": "datum.region == '浙江'"}], "mark": "bar",
         "encoding": {"x": {"field": "year", "type": "ordinal", "title": "年份", "scale": {"paddingInner": 0, "paddingOuter": 0}, "axis": {"labelExpr": "datum.label == '2005' || datum.label == '2015' ? '' : datum.label"}},
          "xOffset": {"field": "method", "scale": {"domain": ["非粮作物面积占比法", "复种指数法", "秋粮面积法"], "paddingInner": 0, "paddingOuter": 0}},
          "y": {"field": "rate", "type": "quantitative", "title": "耕地非粮化率/%", "scale": {"domain": [0, 70], "nice": false}, "axis": {"values": [0, 30, 60]}},
          "color": {"field": "method", "title": null, "scale": {"domain": ["非粮作物面积占比法", "复种指数法", "秋粮面积法"], "range": ["#F0D068", "#D65C04", "#173B36"]}}}}
      ]
    },
    {
      "spacing": 57,
      "hconcat": [
        {"width": 410, "height": 272, "title": "云南", "transform": [{"filter": "datum.region == '云南'"}], "mark": "bar",
         "encoding": {"x": {"field": "year", "type": "ordinal", "title": "年份", "scale": {"paddingInner": 0, "paddingOuter": 0}, "axis": {"labelExpr": "datum.label == '2005' || datum.label == '2015' ? '' : datum.label"}},
          "xOffset": {"field": "method", "scale": {"domain": ["非粮作物面积占比法", "复种指数法", "秋粮面积法"], "paddingInner": 0, "paddingOuter": 0}},
          "y": {"field": "rate", "type": "quantitative", "title": "耕地非粮化率/%", "scale": {"domain": [0, 50], "nice": false}, "axis": {"values": [0, 20, 40]}},
          "color": {"field": "method", "title": null, "scale": {"domain": ["非粮作物面积占比法", "复种指数法", "秋粮面积法"], "range": ["#F0D068", "#D65C04", "#173B36"]}}}},
        {"width": 410, "height": 272, "title": "贵州", "transform": [{"filter": "datum.region == '贵州'"}], "mark": "bar",
         "encoding": {"x": {"field": "year", "type": "ordinal", "title": "年份", "scale": {"paddingInner": 0, "paddingOuter": 0}, "axis": {"labelExpr": "datum.label == '2005' || datum.label == '2015' ? '' : datum.label"}},
          "xOffset": {"field": "method", "scale": {"domain": ["非粮作物面积占比法", "复种指数法", "秋粮面积法"], "paddingInner": 0, "paddingOuter": 0}},
          "y": {"field": "rate", "type": "quantitative", "title": "耕地非粮化率/%", "scale": {"domain": [0, 60], "nice": false}, "axis": {"values": [0, 30, 60]}},
          "color": {"field": "method", "title": null, "scale": {"domain": ["非粮作物面积占比法", "复种指数法", "秋粮面积法"], "range": ["#F0D068", "#D65C04", "#173B36"]}}}},
        {"width": 410, "height": 272, "title": "江西", "transform": [{"filter": "datum.region == '江西'"}], "mark": "bar",
         "encoding": {"x": {"field": "year", "type": "ordinal", "title": "年份", "scale": {"paddingInner": 0, "paddingOuter": 0}, "axis": {"labelExpr": "datum.label == '2005' || datum.label == '2015' ? '' : datum.label"}},
          "xOffset": {"field": "method", "scale": {"domain": ["非粮作物面积占比法", "复种指数法", "秋粮面积法"], "paddingInner": 0, "paddingOuter": 0}},
          "y": {"field": "rate", "type": "quantitative", "title": "耕地非粮化率/%", "scale": {"domain": [0, 60], "nice": false}, "axis": {"values": [0, 30, 60]}},
          "color": {"field": "method", "title": null, "scale": {"domain": ["非粮作物面积占比法", "复种指数法", "秋粮面积法"], "range": ["#F0D068", "#D65C04", "#173B36"]}}}},
        {"width": 410, "height": 272, "title": "广东", "transform": [{"filter": "datum.region == '广东'"}], "mark": "bar",
         "encoding": {"x": {"field": "year", "type": "ordinal", "title": "年份", "scale": {"paddingInner": 0, "paddingOuter": 0}, "axis": {"labelExpr": "datum.label == '2005' || datum.label == '2015' ? '' : datum.label"}},
          "xOffset": {"field": "method", "scale": {"domain": ["非粮作物面积占比法", "复种指数法", "秋粮面积法"], "paddingInner": 0, "paddingOuter": 0}},
          "y": {"field": "rate", "type": "quantitative", "title": "耕地非粮化率/%", "scale": {"domain": [0, 70], "nice": false}, "axis": {"values": [0, 30, 60]}},
          "color": {"field": "method", "title": null, "scale": {"domain": ["非粮作物面积占比法", "复种指数法", "秋粮面积法"], "range": ["#F0D068", "#D65C04", "#173B36"]}}}},
        {"width": 410, "height": 272, "title": "福建", "transform": [{"filter": "datum.region == '福建'"}], "mark": "bar",
         "encoding": {"x": {"field": "year", "type": "ordinal", "title": "年份", "scale": {"paddingInner": 0, "paddingOuter": 0}, "axis": {"labelExpr": "datum.label == '2005' || datum.label == '2015' ? '' : datum.label"}},
          "xOffset": {"field": "method", "scale": {"domain": ["非粮作物面积占比法", "复种指数法", "秋粮面积法"], "paddingInner": 0, "paddingOuter": 0}},
          "y": {"field": "rate", "type": "quantitative", "title": "耕地非粮化率/%", "scale": {"domain": [0, 65], "nice": false}, "axis": {"values": [0, 30, 60]}},
          "color": {"field": "method", "title": null, "scale": {"domain": ["非粮作物面积占比法", "复种指数法", "秋粮面积法"], "range": ["#F0D068", "#D65C04", "#173B36"]}}}}
      ]
    }
  ],
  "config": {
    "font": "Liberation Serif, Noto Sans CJK SC",
    "view": {"stroke": null},
    "style": {"guide-label": {"lineHeight": 80}},
    "axis": {
      "labelFont": "Liberation Serif, Noto Sans CJK SC",
      "titleFont": "Liberation Serif, Noto Sans CJK SC",
      "labelFontSize": 60,
      "titleFontSize": 60,
      "titleFontWeight": "normal",
      "labelColor": "#000",
      "titleColor": "#000",
      "domainColor": "#000",
      "domainWidth": 5,
      "tickColor": "#000",
      "tickWidth": 4,
      "tickSize": -15,
      "grid": false,
      "zindex": 1
    },
    "axisX": {"labelAngle": 0, "labelPadding": 43, "titleY": 141, "titleBaseline": "middle"},
    "axisY": {"labelPadding": 38, "titleX": -147, "titleBaseline": "middle"},
    "title": {
      "font": "Liberation Serif, Noto Sans CJK SC",
      "fontSize": 60,
      "fontWeight": "normal",
      "color": "#000",
      "anchor": "start",
      "frame": "group",
      "offset": 0,
      "baseline": "middle",
      "dx": 60,
      "dy": 131
    }
  }
}
